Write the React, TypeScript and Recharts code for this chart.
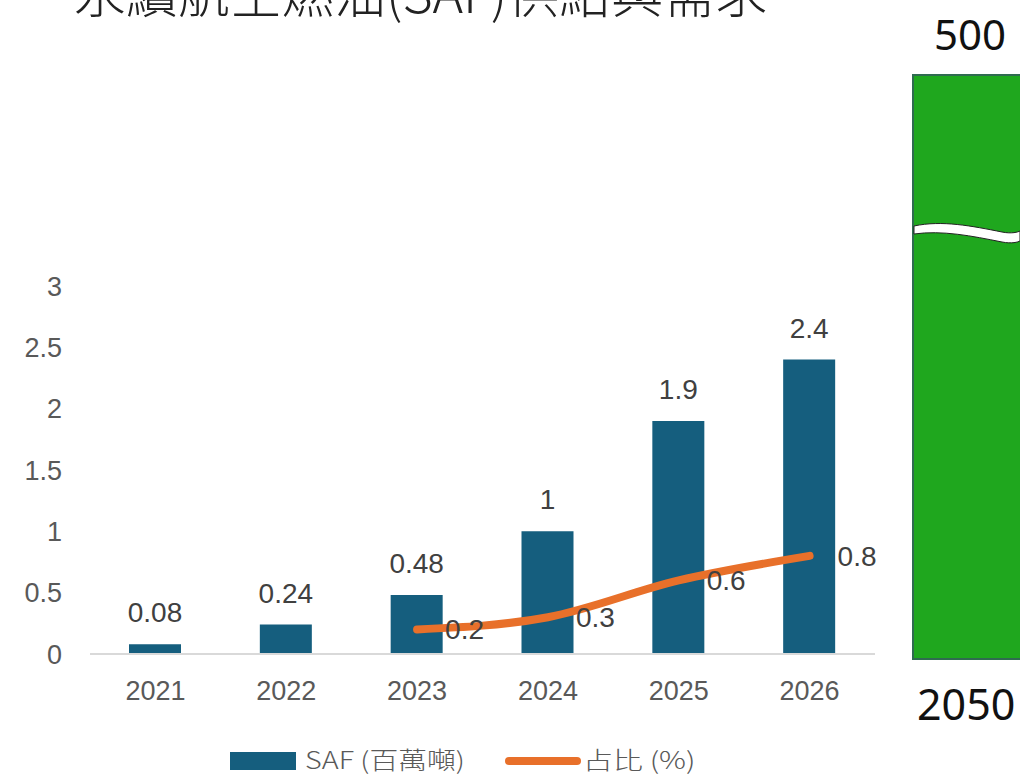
import React from "react";
import { ComposedChart, Bar, Line, XAxis, YAxis, LabelList } from "recharts";

const years = ["2021", "2022", "2023", "2024", "2025", "2026"];
const safValues = [0.08, 0.24, 0.48, 1, 1.9, 2.4];
const shareValues: (number | null)[] = [null, null, 0.2, 0.3, 0.6, 0.8];
const yTicks = [0, 0.5, 1, 1.5, 2, 2.5, 3];

const titleText = "永續航空燃油(SAF)供給與需求";
const safLabel = "SAF (百萬噸)";
const shareLabel = "占比 (%)";
const topValue = "500";
const topYear = "2050";

const data = years.map((y, i) => ({ year: y, saf: safValues[i], share: shareValues[i] }));

const FONT = "'Liberation Sans', Arial, sans-serif";
const CJK = "'Noto Sans CJK TC', 'Liberation Sans', sans-serif";

export default function App() {
  return (
    <div style={{ position: "absolute", left: 0, top: 0, width: 1020, height: 774, overflow: "hidden", background: "#fff" }}>
      <div style={{ position: "absolute", left: 74, top: -40, fontFamily: CJK, fontSize: 52, lineHeight: 1.2, color: "#222", fontWeight: 300, whiteSpace: "nowrap" }}>
        {titleText}
      </div>
      <div style={{ position: "absolute", left: 0, top: 0 }}>
        <ComposedChart width={900} height={774} data={data} margin={{ top: 286, right: 25, bottom: 80, left: 0 }}>
          <YAxis
            domain={[0, 3]}
            ticks={yTicks}
            width={90}
            axisLine={false}
            tickLine={false}
            tickSize={0}
            tickMargin={28}
            tick={{ fontFamily: FONT, fontSize: 27, fill: "#595959" }}
          />
          <XAxis
            dataKey="year"
            height={40}
            axisLine={{ stroke: "#d9d9d9", strokeWidth: 2 }}
            tickLine={false}
            tickSize={0}
            tickMargin={27}
            tick={{ fontFamily: FONT, fontSize: 27, fill: "#595959" }}
          />
          <Bar dataKey="saf" fill="#155E7E" barSize={52} isAnimationActive={false}>
            <LabelList dataKey="saf" position="top" offset={22} style={{ fontFamily: FONT, fontSize: 28, fill: "#404040" }} />
          </Bar>
          <Line
            dataKey="share"
            type="monotone"
            stroke="#E8702A"
            strokeWidth={8}
            strokeLinecap="round"
            dot={false}
            activeDot={false}
            connectNulls={false}
            isAnimationActive={false}
          >
            <LabelList dataKey="share" position="right" offset={28} style={{ fontFamily: FONT, fontSize: 28, fill: "#404040" }} />
          </Line>
        </ComposedChart>
      </div>
      {/* legend */}
      <span style={{ position: "absolute", left: 230, top: 752, width: 66, height: 18, background: "#155E7E" }} />
      <span style={{ position: "absolute", left: 305, top: 744, height: 30, lineHeight: "30px", fontFamily: CJK, fontWeight: 300, fontSize: 24, color: "#595959", whiteSpace: "nowrap", transform: "scaleX(1.2)", transformOrigin: "left center" }}>{safLabel}</span>
      <span style={{ position: "absolute", left: 505, top: 757, width: 76, height: 8, borderRadius: 4, background: "#E8702A" }} />
      <span style={{ position: "absolute", left: 583, top: 744, height: 30, lineHeight: "30px", fontFamily: CJK, fontWeight: 300, fontSize: 24, color: "#595959", whiteSpace: "nowrap", transform: "scaleX(1.25)", transformOrigin: "left center" }}>{shareLabel}</span>
      {/* 2050 demand block */}
      <div style={{ position: "absolute", left: 934, top: 10, fontFamily: "'Noto Sans', 'DejaVu Sans', sans-serif", fontSize: 42, lineHeight: "48px", color: "#111" }}>{topValue}</div>
      <svg style={{ position: "absolute", left: 912, top: 74 }} width={108} height={586}>
        <rect x={1} y={1} width={120} height={584} fill="#1FA71E" stroke="#2F6B50" strokeWidth={2} />
        <path d="M2,152 C30,146 60,152 90,158 C100,160 106,158 108,157 L108,167 C106,168 100,170 90,168 C60,162 30,156 2,160 Z" fill="#fff" stroke="#222" strokeWidth={1} />
      </svg>
      <div style={{ position: "absolute", left: 917, top: 680, fontFamily: "'Noto Sans', 'DejaVu Sans', sans-serif", fontSize: 43, lineHeight: "48px", color: "#111" }}>{topYear}</div>
    </div>
  );
}
